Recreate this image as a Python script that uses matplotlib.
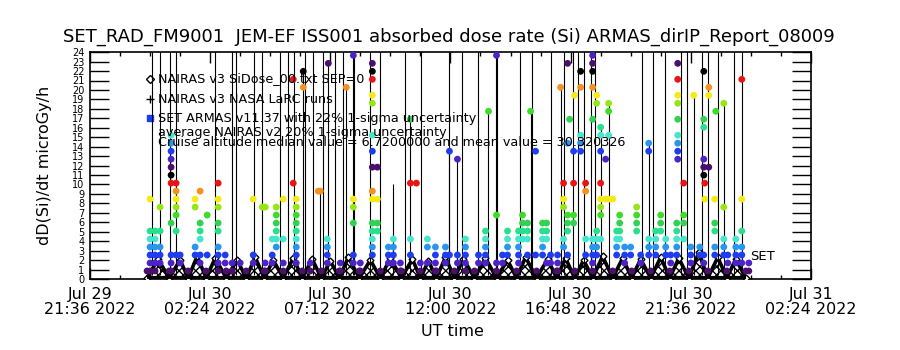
#!/usr/bin/env python3

"""
SET_RAD_FM9001 JEM-EF absorbed dose rate (Si), ARMAS report style plot.
Writes out.png (900x350).
"""

import datetime as dt

import matplotlib
matplotlib.use("Agg")

import matplotlib.pyplot as plt
import matplotlib.dates as mdates

# ============================================================
# Data (hours are counted from 2022-07-29 00:00 UT)
# ============================================================

DAY0 = dt.datetime(2022, 7, 29)

# SET ARMAS dose rate is quantised: level k -> k * LEVEL_STEP microGy/h
LEVEL_STEP = 0.845

# colour of a dot repeats every 13 levels
LEVEL_COLORS = [
    "#000000", "#4b0f6e", "#4b23c8", "#1e3cf0", "#2896ef",
    "#46e6cd", "#28e08c", "#32d250", "#3cdc28", "#96e614",
    "#f5eb14", "#f5911e", "#eb1414",
]

# columns of SET ARMAS dots: time and the levels seen at that time
col_t = [
    24.00, 24.20, 24.40, 24.84, 25.04, 25.20, 25.80, 26.00, 26.28, 26.72,
    27.00, 27.28, 27.60, 28.12, 28.48, 28.60, 28.88, 29.04, 29.32, 29.72,
    29.84, 30.12, 30.40, 30.72, 30.80, 31.08, 31.12, 31.60, 31.84, 32.12,
    32.40, 32.88, 33.08, 33.52, 33.72, 34.00, 34.40, 34.64, 34.80, 35.08,
    35.40, 35.80, 35.96, 36.28, 36.60, 37.12, 37.40, 37.52, 37.84, 38.08,
    38.28, 38.72, 38.88, 39.08, 39.20, 39.40, 39.68, 39.84, 40.00, 40.28,
    40.40, 40.52, 40.68, 40.76, 40.92, 40.96, 41.20, 41.40, 41.68, 41.84,
    42.00, 42.20, 42.32, 42.48, 42.64, 42.76, 42.96, 43.20, 43.44, 43.60,
    43.92, 44.20, 44.40, 44.60, 44.80, 45.04, 45.08, 45.32, 45.60, 45.72,
    45.96, 46.12, 46.16, 46.32, 46.56, 46.60, 46.92, 47.08, 47.40, 47.64,
    47.92,
]

col_levels = [
    [1, 2, 3, 4, 5, 6, 10], [1, 2, 3, 4, 5, 6], [2, 3, 4, 6, 9],
    [1, 2, 3, 7, 12, 13, 14, 15, 16, 17, 18], [3, 6, 8, 9, 10, 11, 12],
    [2, 3], [3, 4, 9, 10], [2, 3, 5, 6, 7, 11], [3, 8],
    [1, 2, 3, 4, 6, 7, 9, 10, 12],
    [2, 3], [1, 2], [2], [2, 3, 10], [9], [1, 2, 9], [2, 3, 5],
    [4, 5, 6, 7, 8, 9], [2, 5, 10], [12, 25],
    [2, 3, 4, 5, 6, 7, 8, 9, 10], [24, 26], [1, 2], [11], [11],
    [2, 3, 4, 5], [27], [1, 2], [24], [2, 3, 7, 9, 10, 28],
    [1, 2], [3, 4, 5, 6, 7, 10, 11, 14, 16, 18, 22, 23, 25, 26, 27],
    [6, 7, 10, 14], [2, 3, 4], [2, 3, 4, 5], [1, 2], [3, 5, 12, 20],
    [12], [2], [2, 4, 5],
    [1, 2, 3, 4], [2, 3, 4], [3, 16], [2, 3, 15], [1, 2, 3, 4, 5],
    [2, 3], [2, 3, 4, 5, 6], [21], [2, 8, 28], [2, 3],
    [3, 4, 5, 6], [2, 3, 4, 5, 6], [5, 6, 7, 8], [3, 5, 6, 7], [21],
    [3, 16], [3, 4, 5, 6, 7], [2, 5, 6, 7], [2, 3], [1, 2, 3],
    [24], [4, 5, 9, 10, 12], [3, 6, 7, 8, 17, 27], [20], [7, 8, 12, 16],
    [23], [16, 17, 18, 24, 26], [3, 5, 11, 12],
    [2, 3, 4, 5, 20, 24, 26, 27, 28], [3, 4, 5, 6, 22, 23],
    [5, 8, 9, 10, 12, 16, 18, 19], [10, 15], [10, 18, 21, 22], [10],
    [3, 4, 5, 6], [5, 6, 7, 8], [2, 3, 4], [3, 4], [6, 7, 8, 9], [2, 3],
    [3, 4, 5, 16, 17], [3, 4, 5, 6], [6, 7, 8], [3, 4, 5], [2, 3],
    [3, 4, 5, 6, 7], [15, 16, 17, 18, 20, 22, 23, 25, 27], [5, 7, 8, 12],
    [2, 3, 4], [23],
    [3, 4], [2, 3, 13, 14, 15, 19, 20, 26], [10, 12], [14, 23, 24],
    [3, 4, 6, 7, 10], [21], [3, 4, 5, 9, 22], [2, 3], [2, 3, 4, 5],
    [2, 3, 4, 6, 10, 25],
    [1, 2],
]

# thin black lines of the SET ARMAS trace (top above 24 = off the plot)
spike_t = [
    24.08, 24.40, 24.80, 25.04, 26.60, 27.28, 27.44, 28.16, 28.48, 29.20,
    29.52, 29.76, 30.20, 30.52, 30.92, 31.40, 31.72, 32.16, 32.80, 33.20,
    34.20, 34.84, 35.96, 36.48, 37.12, 37.80, 38.76, 39.24, 40.00, 40.52,
    40.88, 41.08, 41.32, 41.60, 41.76, 43.64, 44.08, 44.56, 45.20, 45.44,
    46.04, 46.28, 46.68, 47.32, 47.64,
    30.12, 30.80, 31.12, 31.84, 32.12, 33.72, 34.40, 35.96, 36.28, 37.52,
    37.84, 39.20, 40.40, 42.00, 42.32, 43.92, 45.72, 46.92,
]

spike_top = [26] * 45 + [
    22.0, 9.3, 22.8, 20.3, 23.7, 10.0, 17.0, 13.5, 12.7, 17.7,
    23.7, 17.7, 20.3, 16.0, 18.6, 14.4, 19.4, 18.6,
]

# NAIRAS v3 model: orbit-by-orbit rise and fall
nairas_t = [
    23.88, 24.32, 24.76, 25.20, 25.52, 25.88, 26.24, 26.60, 27.04, 27.48,
    27.84, 28.20, 28.56, 28.92, 29.32, 29.72, 30.08, 30.48, 30.84, 31.20,
    31.56, 31.92, 32.36, 32.80, 33.20, 33.60, 34.04, 34.48, 34.80, 35.12,
    35.44, 35.80, 36.16, 36.52, 36.96, 37.40, 37.84, 38.28, 38.64, 39.00,
    39.44, 39.88, 40.24, 40.60, 40.96, 41.32, 41.68, 42.08, 42.48, 42.88,
    43.24, 43.60, 44.00, 44.40, 44.76, 45.12, 45.52, 45.92, 46.28, 46.68,
    47.04, 47.40, 47.80,
]

nairas_v = [
    0.1, 2.1, 0.1, 2.0, 0.1, 2.4, 0.1, 2.2, 0.1, 2.0,
    0.1, 2.3, 0.1, 2.0, 0.1, 2.2, 0.1, 2.1, 0.1, 1.9,
    0.1, 2.3, 0.1, 2.0, 0.1, 2.2, 0.1, 2.1, 0.1, 1.9,
    0.1, 2.3, 0.1, 2.1, 0.1, 2.2, 0.1, 2.0, 0.1, 2.3,
    0.1, 2.1, 0.1, 2.2, 0.1, 2.0, 0.1, 2.4, 0.1, 2.2,
    0.1, 2.1, 0.1, 2.3, 0.1, 2.2, 0.1, 2.8, 0.1, 2.3,
    0.1, 2.1, 0.1,
]

# x axis
x_start_h = 21.6
x_end_h = 50.4
x_tick_h = [21.6, 26.4, 31.2, 36.0, 40.8, 45.6, 50.4]
x_tick_labels = [
    "Jul 29\n21:36 2022", "Jul 30\n02:24 2022", "Jul 30\n07:12 2022",
    "Jul 30\n12:00 2022", "Jul 30\n16:48 2022", "Jul 30\n21:36 2022",
    "Jul 31\n02:24 2022",
]
x_minor_step_h = 1.2

y_ticks = list(range(0, 25))

title = ("SET_RAD_FM9001  JEM-EF ISS001 absorbed dose rate (Si) "
         "ARMAS_dirIP_Report_08009")

legend_lines = [
    "NAIRAS v3 SiDose_00.txt SEP=0",
    "NAIRAS v3 NASA LaRC runs",
    "SET ARMAS v11.37 with 22% 1-sigma uncertainty",
    "average NAIRAS v2 20% 1-sigma uncertainty",
    "Cruise altitude median value = 6.7200000 and mean value = 30.320326",
]


# ============================================================
# Helpers
# ============================================================

def to_dates(hours):

    return mdates.date2num(
        [DAY0 + dt.timedelta(hours=h) for h in hours]
    )


def fig_xy(px, py):
    # pixel position on the 900x350 canvas -> figure fraction
    return px / 900.0, 1.0 - py / 350.0


# ============================================================
# Plot
# ============================================================

def main():

    fig = plt.figure(figsize=(9, 3.5), dpi=100)
    fig.patch.set_facecolor("white")

    ax = fig.add_axes([0.1, 0.203, 0.801, 0.648])

    # --- NAIRAS orbit humps
    nt = to_dates(nairas_t)

    ax.fill_between(
        nt, 0, nairas_v,
        facecolor="white", edgecolor="black",
        hatch="xxxx", linewidth=0, zorder=2
    )

    ax.plot(nt, nairas_v, color="black", linewidth=2.6, zorder=3)
    ax.plot(
        nt, nairas_v, linestyle="none", marker="D", markersize=3.5,
        markerfacecolor="white", markeredgecolor="black", zorder=3
    )

    ax.hlines(0.12, nt[0], nt[-1], color="black", linewidth=3, zorder=3)

    # --- SET ARMAS trace
    ax.vlines(
        to_dates(spike_t), 0.4, spike_top,
        color="black", linewidth=0.8, zorder=4
    )

    dot_x, dot_y, dot_c = [], [], []

    for t, levels in zip(to_dates(col_t), col_levels):
        for k in levels:
            dot_x.append(t)
            dot_y.append(k * LEVEL_STEP)
            dot_c.append(LEVEL_COLORS[k % 13])

    # level-1 dots sitting between the humps
    for t, v in zip(nt, nairas_v):
        if v < 0.5:
            dot_x.append(t)
            dot_y.append(LEVEL_STEP)
            dot_c.append(LEVEL_COLORS[1])

    ax.scatter(
        dot_x, dot_y, s=24, c=dot_c, marker="o",
        linewidths=0, zorder=5
    )

    # --- axes
    ax.set_xlim(to_dates([x_start_h, x_end_h]))
    ax.set_ylim(0, 24)

    ax.set_xticks(to_dates(x_tick_h))
    ax.set_xticklabels(x_tick_labels, fontsize=11.5, linespacing=0.95)

    minor_h = []
    h = x_start_h
    while h < x_end_h:
        minor_h.append(h)
        h += x_minor_step_h
    ax.set_xticks(to_dates(minor_h), minor=True)

    ax.set_yticks(y_ticks)
    ax.set_yticklabels([str(v) for v in y_ticks], fontsize=7)

    ax.tick_params(
        axis="x", which="major", direction="in", length=8,
        top=True, pad=6, width=1
    )
    ax.tick_params(
        axis="x", which="minor", direction="in", length=3,
        top=True, width=1
    )
    ax.tick_params(
        axis="y", direction="in", length=14, right=True,
        pad=4, width=1
    )

    for side in ax.spines.values():
        side.set_linewidth(1.2)

    # --- texts
    x, y = fig_xy(449, 37)
    fig.text(x, y, title, ha="center", va="center", fontsize=13)

    x, y = fig_xy(452, 331)
    fig.text(x, y, "UT time", ha="center", va="center", fontsize=11.5)

    x, y = fig_xy(45, 165)
    fig.text(x, y, "dD(Si)/dt microGy/h", ha="center", va="center",
             rotation=90, fontsize=11.5)

    legend_y = [79, 99, 118, 132, 143]

    for line, py in zip(legend_lines, legend_y):
        x, y = fig_xy(158, py)
        fig.text(x, y, line, ha="left", va="center", fontsize=9.2)

    x, y = fig_xy(150, 79)
    ax.plot([x], [y], transform=fig.transFigure, marker="D",
            markersize=4, markerfacecolor="white",
            markeredgecolor="black", clip_on=False)

    x, y = fig_xy(150, 99)
    ax.plot([x], [y], transform=fig.transFigure, marker="+",
            markersize=6, color="black", clip_on=False)

    x, y = fig_xy(150, 118)
    ax.plot([x], [y], transform=fig.transFigure, marker="s",
            markersize=5, color=LEVEL_COLORS[3], clip_on=False)

    x, y = fig_xy(750, 257)
    fig.text(x, y, "SET", ha="left", va="center", fontsize=9.5)

    fig.savefig("out.png", dpi=100)
    plt.close(fig)


if __name__ == "__main__":

    main()
